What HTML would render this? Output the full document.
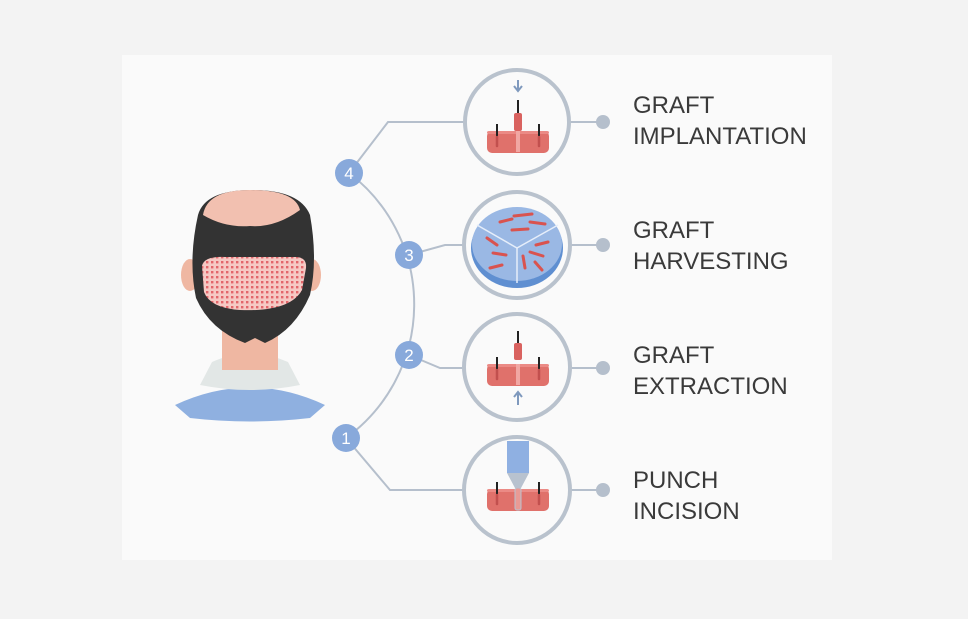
<!DOCTYPE html>
<html><head><style>
html,body{margin:0;padding:0;background:#f3f3f3;}
svg{display:block}
text{font-family:"Liberation Sans",sans-serif;}
</style></head><body>
<svg width="968" height="619" viewBox="0 0 968 619" xmlns="http://www.w3.org/2000/svg">
<rect width="968" height="619" fill="#f3f3f3"/>
<rect x="122" y="55" width="710" height="505" fill="#fafafa"/>
<defs>
<pattern id="dots" width="5" height="5" patternUnits="userSpaceOnUse">
<rect width="5" height="5" fill="#f6c9c4"/><rect x="1" y="1" width="2.4" height="2.4" fill="#e2666a"/>
</pattern>
<g id="skin">
<rect x="-31" y="-10" width="62" height="22" rx="5" fill="#e0716b"/>
<rect x="-31" y="-10" width="62" height="3" rx="2" fill="#eb8a85"/>
<line x1="-21" y1="-17" x2="-21" y2="-4" stroke="#222" stroke-width="2"/>
<line x1="21" y1="-17" x2="21" y2="-4" stroke="#222" stroke-width="2"/>
<line x1="-21" y1="-4" x2="-21" y2="5" stroke="#c2504e" stroke-width="2.5" stroke-linecap="round"/>
<line x1="21" y1="-4" x2="21" y2="5" stroke="#c2504e" stroke-width="2.5" stroke-linecap="round"/>
</g>
</defs>
<path d="M349 173 A165 165 0 0 1 346 438" fill="none" stroke="#b5bfcc" stroke-width="2"/>
<g stroke="#b5bfcc" stroke-width="2" fill="none">
<polyline points="349,173 388,122 467,122"/>
<polyline points="409,255 445,245 463,245"/>
<polyline points="409,355 440,368 463,368"/>
<polyline points="346,438 390,490 463,490"/>
<line x1="569" y1="122" x2="603" y2="122"/>
<line x1="571" y1="245" x2="603" y2="245"/>
<line x1="571" y1="368" x2="603" y2="368"/>
<line x1="571" y1="490" x2="603" y2="490"/>
</g>
<g fill="#b5bfcc"><circle cx="603" cy="122" r="7"/><circle cx="603" cy="245" r="7"/><circle cx="603" cy="368" r="7"/><circle cx="603" cy="490" r="7"/></g>
<g fill="#fafafa" stroke="#b9c2cd" stroke-width="4">
<circle cx="517" cy="122" r="52"/><circle cx="517" cy="245" r="53"/><circle cx="517" cy="367" r="53"/><circle cx="517" cy="490" r="53"/>
</g>
<g fill="#88a9db"><circle cx="349" cy="173" r="14"/><circle cx="409" cy="255" r="14"/><circle cx="409" cy="355" r="14"/><circle cx="346" cy="438" r="14"/></g>
<g fill="#fff" font-size="17" text-anchor="middle"><text x="349" y="179">4</text><text x="409" y="261">3</text><text x="409" y="361">2</text><text x="346" y="444">1</text></g>
<use href="#skin" x="518" y="141"/>
<rect x="514" y="113" width="8" height="18" rx="2" fill="#d9625f"/>
<line x1="518" y1="100" x2="518" y2="113" stroke="#222" stroke-width="2"/>
<rect x="516" y="131" width="4" height="21" fill="#f1a7a3"/>
<path d="M518 80 V90 M514 86 L518 91 L522 86" stroke="#7f99bd" stroke-width="2" fill="none"/>
<ellipse cx="517" cy="248" rx="46" ry="40" fill="#5f8fd1"/>
<ellipse cx="517" cy="244" rx="45" ry="37" fill="#9ab8e4"/>
<g stroke="#e6eefa" stroke-width="1.5"><line x1="517" y1="248" x2="517" y2="283"/><line x1="517" y1="248" x2="477" y2="225"/><line x1="517" y1="248" x2="558" y2="225"/></g>
<g stroke-width="3" stroke-linecap="round">
<line x1="500" y1="222" x2="512" y2="219" stroke="#d9534f"/><line x1="514" y1="216" x2="532" y2="214" stroke="#d9534f"/><line x1="530" y1="222" x2="545" y2="224" stroke="#d9534f"/>
<line x1="512" y1="230" x2="528" y2="229" stroke="#d9534f"/><line x1="487" y1="238" x2="497" y2="245" stroke="#d9534f"/><line x1="493" y1="253" x2="506" y2="255" stroke="#d9534f"/>
<line x1="490" y1="268" x2="502" y2="265" stroke="#d9534f"/><line x1="536" y1="245" x2="548" y2="242" stroke="#d9534f"/><line x1="530" y1="252" x2="543" y2="256" stroke="#d9534f"/>
<line x1="523" y1="256" x2="525" y2="268" stroke="#d9534f"/><line x1="535" y1="262" x2="542" y2="270" stroke="#d9534f"/>
</g>
<use href="#skin" x="518" y="374"/>
<rect x="514" y="343" width="8" height="17" rx="2" fill="#d9625f"/>
<line x1="518" y1="331" x2="518" y2="343" stroke="#222" stroke-width="2"/>
<rect x="516" y="364" width="4" height="21" fill="#f1a7a3"/>
<path d="M518 405 V393 M514 397 L518 392 L522 397" stroke="#7f99bd" stroke-width="2" fill="none"/>
<use href="#skin" x="518" y="499"/>
<rect x="507" y="441" width="22" height="32" fill="#8fb0e2"/>
<path d="M507 473 H529 L521 488 H515 Z" fill="#b8c2cf"/>
<rect x="515" y="488" width="6" height="22" rx="2" fill="#e99a95" stroke="#b8c2cf"/>
<g fill="#3a3a3a" font-size="24">
<text x="633" y="113">GRAFT</text><text x="633" y="144">IMPLANTATION</text>
<text x="633" y="238">GRAFT</text><text x="633" y="269">HARVESTING</text>
<text x="633" y="363">GRAFT</text><text x="633" y="394">EXTRACTION</text>
<text x="633" y="488">PUNCH</text><text x="633" y="519">INCISION</text>
</g>
<!-- person -->
<path d="M175 405 Q250 370 325 405 L310 418 Q250 425 190 418 Z" fill="#8fb0e0"/>
<path d="M212 362 Q250 345 288 362 L300 385 Q250 395 200 385 Z" fill="#e2e7e6"/>
<rect x="222" y="320" width="56" height="50" fill="#efb7a2"/>
<ellipse cx="190" cy="275" rx="9" ry="16" fill="#efb7a2"/>
<ellipse cx="312" cy="275" rx="9" ry="16" fill="#efb7a2"/>
<path d="M198 215 Q205 190 252 190 Q300 190 310 215 Q318 260 310 295 Q295 330 265 343 L255 338 L245 343 Q210 330 196 298 Q188 260 198 215 Z" fill="#333"/>
<path d="M203 215 Q207 190 250 190 Q295 190 300 210 Q275 228 250 226 Q225 228 203 215 Z" fill="#f2c0b0"/>
<path d="M202 266 Q204 256 225 257 L297 257 Q307 258 306 268 L302 290 Q290 312 240 310 Q210 308 204 292 Z" fill="url(#dots)"/>
</svg>
</body></html>
